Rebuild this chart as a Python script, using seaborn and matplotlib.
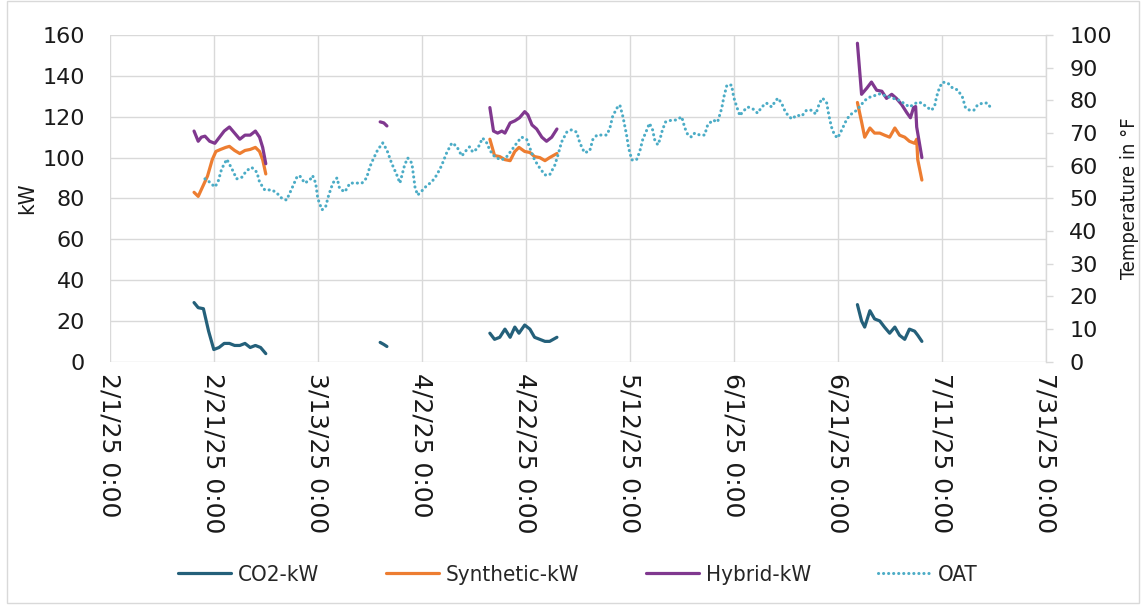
import numpy as np
import pandas as pd
import matplotlib
matplotlib.use("Agg")
import matplotlib.pyplot as plt
import matplotlib.dates as mdates
from matplotlib.ticker import FixedLocator, FuncFormatter, MultipleLocator
from matplotlib.lines import Line2D
from matplotlib.patches import Rectangle
from matplotlib import font_manager as fm
import seaborn as sns

# ---------------- data (day offsets from 2/1/25) ----------------
BASE = pd.Timestamp("2025-02-01")

# Segment 1 (late Feb)
co2_d1 = [16.2, 17.0, 18.0, 19.0, 20.0, 21.0, 22.0, 23.0, 24.0, 25.0, 26.0, 27.0, 28.0, 29.0, 30.0]
co2_v1 = [29, 26.5, 26, 15, 6, 7, 9, 9, 8, 8, 9, 7, 8, 7, 4]
syn_d1 = [16.2, 17.0, 17.9, 18.8, 19.7, 20.4, 21.3, 22.3, 23.0, 24.0, 25.0, 26.0, 27.0, 28.0, 28.8, 29.4, 30.0]
syn_v1 = [83, 81, 86, 91, 99, 103, 104, 105, 105.5, 103.5, 102, 103.5, 104, 105, 103, 99, 92]
hyb_d1 = [16.2, 17.0, 17.6, 18.3, 19.2, 20.2, 21.1, 22.0, 23.0, 24.0, 25.0, 26.0, 27.0, 28.0, 28.8, 29.4, 30.0]
hyb_v1 = [113, 108, 110, 110.5, 108, 107, 110, 113, 115, 112, 109, 111, 111, 113, 110, 105, 97]

# Segment 2 (late March)
co2_d2 = [52.0, 52.7, 53.3]
co2_v2 = [9.5, 8.5, 7.5]
hyb_d2 = [52.0, 52.7, 53.3]
hyb_v2 = [117.5, 117, 115.5]

# Segment 3 (mid/late April)
co2_d3 = [73.1, 74.0, 75.0, 76.0, 77.0, 77.9, 78.7, 79.8, 80.8, 81.7, 82.7, 83.7, 84.6, 86.0]
co2_v3 = [14, 11, 12, 16, 12, 17, 14, 18, 16, 12, 11, 10, 10, 12]
syn_d3 = [73.1, 74.0, 75.0, 76.0, 77.0, 77.9, 78.7, 79.8, 80.8, 81.7, 82.7, 83.7, 84.6, 86.0]
syn_v3 = [109, 101, 100.5, 99, 98.5, 103, 105, 103, 102.5, 100.5, 100, 98.5, 100, 102]
hyb_d3 = [73.1, 73.8, 74.6, 75.4, 76.0, 77.0, 77.9, 78.8, 79.8, 80.4, 81.2, 82.1, 83.1, 84.0, 85.0, 86.0]
hyb_v3 = [124.5, 113, 112, 113, 112, 117, 118, 119.5, 122.5, 121, 116, 114, 110, 108, 110, 114]

# Segment 4 (late June / early July)
co2_d4 = [143.8, 144.6, 145.2, 146.2, 147.1, 148.1, 149.0, 150.0, 151.0, 151.9, 152.9, 153.8, 154.8, 155.4, 156.2]
co2_v4 = [28, 20, 17, 25, 21, 20, 17, 14, 17, 13, 11, 16, 15, 13, 10]
syn_d4 = [143.8, 144.6, 145.2, 146.2, 147.1, 148.1, 149.0, 150.0, 151.0, 151.9, 152.9, 153.8, 154.8, 155.2, 155.4, 156.2]
syn_v4 = [127, 117.5, 110, 114.5, 112, 112, 111, 110, 114.5, 111, 110, 108, 107, 109, 99, 89]
hyb_d4 = [143.8, 144.6, 145.6, 146.5, 147.5, 148.5, 149.4, 150.4, 151.3, 152.3, 153.3, 154.0, 154.6, 155.0, 155.2, 156.2]
hyb_v4 = [156, 131, 134, 137, 133, 132.5, 129, 131, 129, 126, 122, 119.5, 124.5, 125, 115, 100]

# Outdoor air temperature (°F)
oat_d = [18.3, 19.2, 20.2, 20.8, 21.5, 22.5, 23.5, 24.4, 25.4, 26.3, 27.3, 28.3, 28.8, 29.8,
         31.2, 32.1, 33.1, 34.0, 35.0, 36.0, 36.5, 37.5, 38.5, 39.0, 39.6, 40.0, 40.8, 41.5,
         42.1, 42.9, 43.7, 44.2, 45.2, 46.2, 47.5, 48.5, 49.4, 50.0, 50.6, 51.5, 52.5, 53.3,
         54.2, 55.2, 55.8, 56.7, 57.3, 58.1, 58.7, 59.2, 60.2, 61.0, 61.9, 62.9, 63.8, 64.8,
         65.8, 66.7, 67.7, 68.7, 69.2, 69.8, 70.8, 71.7, 72.5, 73.1, 73.7, 74.4, 75.4, 76.3,
         77.3, 78.3, 79.2, 80.2, 80.8, 81.7, 82.7, 83.7, 84.6, 85.6, 86.2, 86.9, 87.9, 88.8,
         89.8, 90.4, 91.3, 92.3, 92.9, 93.7, 94.6, 95.6, 96.2, 96.7, 97.5, 98.1, 98.7, 99.4,
         99.8, 100.4, 101.3, 101.9, 102.5, 103.3, 103.8, 104.4, 104.8, 105.4, 105.8, 106.3,
         106.9, 108.1, 109.0, 110.0, 110.6, 111.2, 111.9, 112.5, 113.5, 114.4, 115.0, 116.0,
         116.9, 117.7, 118.1, 118.7, 119.6, 120.0, 120.6, 121.2, 121.7, 122.7, 123.7, 124.6,
         125.4, 126.3, 127.3, 127.9, 128.5, 129.2, 129.8, 130.4, 131.2, 132.1, 133.1, 134.0,
         135.0, 135.8, 136.5, 137.1, 137.9, 138.3, 138.8, 139.4, 140.0, 140.8, 141.5, 142.3,
         143.3, 144.2, 145.2, 146.2, 148.1, 150.0, 151.9, 153.8, 155.4, 156.2, 157.1, 158.1,
         158.7, 159.0, 159.6, 160.2, 161.2, 162.1, 163.1, 164.0, 164.6, 165.4, 166.2, 166.9,
         167.9, 168.8, 169.6]
oat_v = [56, 55, 53.5, 55, 59, 62, 59, 56, 56.5, 58.5, 59.5, 58, 55, 52.6,
         52.6, 51.7, 50, 49.5, 53, 56.6, 57, 54.7, 55.7, 57, 54.7, 50, 46.5, 47.4,
         51, 54.7, 56.3, 53, 52, 54.7, 54.7, 54.7, 56.3, 59.6, 61.8, 64.8, 67, 64.8,
         60.8, 57.2, 54.7, 60.2, 62.4, 60.8, 53.5, 51, 52.6, 54, 55, 57.2, 60, 64,
         67, 66, 63, 65, 65.8, 64.2, 65.4, 68.5, 67, 64.8, 63.3, 62.4, 61.8, 62.7,
         64.8, 67, 68.8, 68, 65.4, 61.8, 59.3, 57.2, 57.2, 60.2, 63.3, 67.3, 70.3, 71,
         70.3, 67, 64, 64.5, 68, 69.4, 69.4, 69.4, 71.6, 75, 77.6, 78.6, 75, 69.4,
         65.4, 61.8, 61.8, 64.2, 68, 71, 73, 71, 68, 66.4, 68, 71,
         73.4, 74, 74, 75, 71.6, 69.4, 68.8, 70, 69.4, 69.4, 72.5, 74,
         73.4, 77.6, 81, 84.7, 84.7, 81, 78, 75.3, 76.5, 78, 77.4, 76.1,
         78, 79.2, 78, 79.5, 80.7, 79.2, 77, 75.5, 74.3, 75.5, 75.2, 77,
         77, 75.8, 79.2, 80.7, 79.2, 75.5, 71.9, 69.4, 68.5, 71, 73.4, 75.5,
         76.5, 78, 80, 81, 82, 81, 80, 78, 79.5, 79.2, 78, 77,
         78.6, 81, 84, 85.6, 85.3, 83.8, 83.2, 81, 77.7, 77, 77, 78.6,
         79.2, 79.2, 77.4]

series_names = ["CO2-kW", "Synthetic-kW", "Hybrid-kW"]
colors = {"CO2-kW": "#24607A", "Synthetic-kW": "#ED7D31", "Hybrid-kW": "#80388F"}
oat_color = "#4BACC6"
x_tick_days = [0, 20, 40, 60, 80, 100, 120, 140, 160, 180]

# ---------------- build tables ----------------
rows = []
segs = {
    "CO2-kW": [(co2_d1, co2_v1), (co2_d2, co2_v2), (co2_d3, co2_v3), (co2_d4, co2_v4)],
    "Synthetic-kW": [(syn_d1, syn_v1), (syn_d3, syn_v3), (syn_d4, syn_v4)],
    "Hybrid-kW": [(hyb_d1, hyb_v1), (hyb_d2, hyb_v2), (hyb_d3, hyb_v3), (hyb_d4, hyb_v4)],
}
for name, parts in segs.items():
    for i, (d, v) in enumerate(parts):
        for dd, vv in zip(d, v):
            rows.append({"date": BASE + pd.to_timedelta(dd, unit="D"), "kW": vv,
                         "series": name, "seg": f"{name}-{i}"})
kw_df = pd.DataFrame(rows)
oat_df = pd.DataFrame({"date": BASE + pd.to_timedelta(oat_d, unit="D"), "OAT": oat_v})

# ---------------- fonts ----------------
narrow_path = None
for key in ["LiberationSansNarrow-Regular", "DejaVuSansCondensed.ttf",
            "RobotoCondensed-Regular", "OpenSans_Condensed-Regular",
            "OpenSansCondensed", "NotoSans-Condensed.ttf", "NotoSansCondensed-Regular"]:
    for f in fm.fontManager.ttflist:
        if key.lower() in f.fname.lower().replace(" ", ""):
            narrow_path = f.fname
            break
    if narrow_path:
        break


def narrow_fp(size):
    if narrow_path:
        return fm.FontProperties(fname=narrow_path, size=size)
    return fm.FontProperties(family=["Liberation Sans", "DejaVu Sans"], size=size)


# ---------------- figure ----------------
sns.set_theme(style="white")
plt.rcParams["font.family"] = ["DejaVu Sans"]
fig = plt.figure(figsize=(11.44, 6.05), dpi=100)
ax = fig.add_axes([0.096, 0.402, 0.818, 0.540])
ax2 = ax.twinx()

sns.lineplot(data=kw_df, x="date", y="kW", hue="series", units="seg", estimator=None,
             hue_order=series_names, palette=colors, linewidth=2.3, legend=False,
             sort=False, ax=ax)
sns.lineplot(data=oat_df, x="date", y="OAT", color=oat_color, linewidth=2.2,
             legend=False, sort=False, ax=ax2)
for ln in ax2.lines:
    ln.set_linestyle((0, (0.05, 1.6)))
    ln.set_dash_capstyle("round")

grid_c = "#D9D9D9"
ax.set_xlim(BASE, BASE + pd.Timedelta(days=180))
ax.set_ylim(0, 160)
ax2.set_ylim(0, 100)
ax.yaxis.set_major_locator(MultipleLocator(20))
ax2.yaxis.set_major_locator(MultipleLocator(10))

tick_dates = [BASE + pd.Timedelta(days=d) for d in x_tick_days]
ax.xaxis.set_major_locator(FixedLocator(mdates.date2num(tick_dates)))
ax.xaxis.set_major_formatter(FuncFormatter(
    lambda x, p: (lambda d: f"{d.month}/{d.day}/{d:%y} 0:00")(mdates.num2date(x))))

ax.grid(True, color=grid_c, linewidth=1.0)
ax.set_axisbelow(True)
for s in ["top", "left", "bottom", "right"]:
    ax.spines[s].set_visible(False)
for s in ["top", "left", "bottom"]:
    ax2.spines[s].set_visible(False)
ax2.spines["right"].set_visible(True)
ax2.spines["right"].set_color(grid_c)
ax2.spines["right"].set_linewidth(1.0)

tick_fs = 16
ax.tick_params(axis="x", labelsize=18, labelcolor="#1a1a1a", length=0, pad=8,
               labelrotation=270)
ax.tick_params(axis="y", labelsize=tick_fs, labelcolor="#1a1a1a", length=0, pad=18)
ax2.tick_params(axis="y", labelsize=tick_fs, labelcolor="#1a1a1a", length=5, width=1,
                color=grid_c, direction="out", pad=12)
for lab in ax.get_xticklabels():
    lab.set_va("top")
    lab.set_ha("center")

ax.set_xlabel("")
ax.set_ylabel("kW", fontproperties=narrow_fp(16), color="#1a1a1a", labelpad=4)
ax2.set_ylabel("Temperature in °F", fontproperties=narrow_fp(14.5), color="#1a1a1a",
               labelpad=6)

handles = [Line2D([], [], color=colors[n], linewidth=2.3) for n in series_names]
oat_h = Line2D([], [], color=oat_color, linewidth=2.2, linestyle=(0, (0.05, 1.6)),
               dash_capstyle="round")
handles.append(oat_h)
labels = series_names + ["OAT"]
fig.legend(handles, labels, loc="center", bbox_to_anchor=(0.505, 0.05), ncol=4,
           frameon=False, handlelength=2.4, columnspacing=3.0, handletextpad=0.3,
           prop=narrow_fp(16))

fig.patches.append(Rectangle((0.006, 0.004), 0.99, 0.994, transform=fig.transFigure,
                             fill=False, edgecolor="#D9D9D9", linewidth=1.0))

fig.savefig("out.png", dpi=100)
